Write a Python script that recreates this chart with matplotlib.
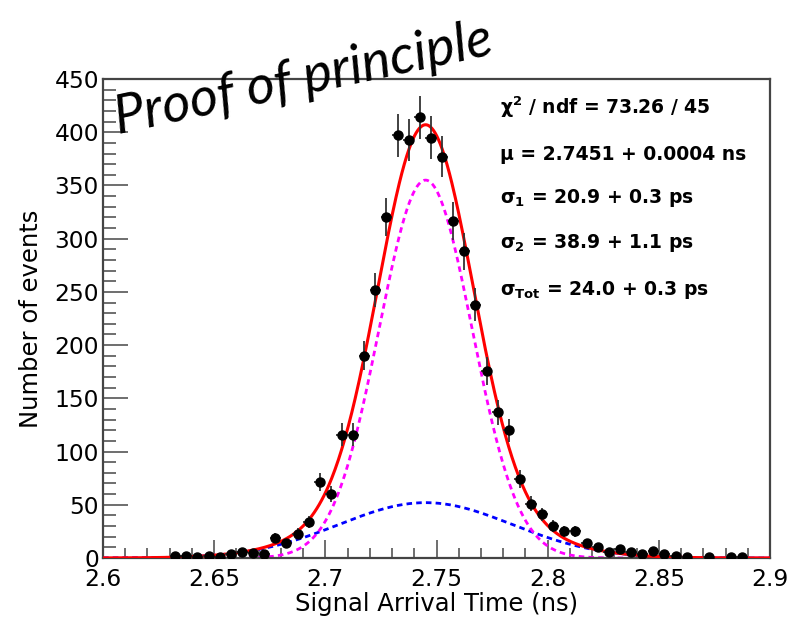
import numpy as np
import matplotlib
matplotlib.use("Agg")
import matplotlib.pyplot as plt
import matplotlib.transforms as mtransforms
from matplotlib.ticker import MultipleLocator

plt.rcParams['font.family'] = ['DejaVu Sans']
plt.rcParams['mathtext.fontset'] = 'dejavusans'
plt.rcParams['mathtext.default'] = 'bf'

# 直方图数据 (bin 中心, 计数)
bin_centers = [2.6325, 2.6375, 2.6425, 2.6475, 2.6525, 2.6575, 2.6625, 2.6675,
               2.6725, 2.6775, 2.6825, 2.6875, 2.6925, 2.6975, 2.7025, 2.7075,
               2.7125, 2.7175, 2.7225, 2.7275, 2.7325, 2.7375, 2.7425, 2.7475,
               2.7525, 2.7575, 2.7625, 2.7675, 2.7725, 2.7775, 2.7825, 2.7875,
               2.7925, 2.7975, 2.8025, 2.8075, 2.8125, 2.8175, 2.8225, 2.8275,
               2.8325, 2.8375, 2.8425, 2.8475, 2.8525, 2.8575, 2.8625, 2.8725,
               2.8825, 2.8875]
counts = [2, 2, 1, 2, 1, 4, 6, 5,
          4, 19, 14, 23, 34, 71, 60, 116,
          116, 190, 252, 320, 397, 393, 414, 395,
          377, 317, 288, 238, 176, 137, 120, 74,
          51, 41, 30, 25, 25, 14, 10, 6,
          8, 6, 4, 7, 4, 2, 1, 1,
          1, 1]
bin_width = 0.005

# 拟合参数 (双高斯)
mu = 2.7451
sigma1 = 0.0209
sigma2 = 0.0389
amp1 = 355.0
amp2 = 52.0

fit_lines = [r'χ$^{2}$ / ndf = 73.26 / 45',
             r'μ = 2.7451 + 0.0004 ns',
             r'σ$_{1}$ = 20.9 + 0.3 ps',
             r'σ$_{2}$ = 38.9 + 1.1 ps',
             r'σ$_{Tot}$ = 24.0 + 0.3 ps']

x = np.array(bin_centers)
y = np.array(counts, dtype=float)
yerr = np.sqrt(y)

fig = plt.figure(figsize=(7.99, 6.27), dpi=100)
ax = fig.add_axes([103/799, 69/627, (770-103)/799, (558-79)/627])

xs = np.linspace(2.6, 2.9, 800)
g1 = amp1 * np.exp(-0.5 * ((xs - mu) / sigma1) ** 2)
g2 = amp2 * np.exp(-0.5 * ((xs - mu) / sigma2) ** 2)

ax.plot(xs, g2, color='#0000ff', lw=2, linestyle=(0, (2, 1.5)), zorder=2)
ax.plot(xs, g1, color='#ff00ff', lw=2, linestyle=(0, (2, 1.5)), zorder=2)
ax.plot(xs, g1 + g2, color='#ff0000', lw=2.2, zorder=3)

ax.errorbar(x, y, yerr=yerr, xerr=bin_width/2, fmt='o', color='black',
            ecolor='#333333', elinewidth=1.3, markersize=6.5, capsize=0, zorder=4)

ax.set_xlim(2.6, 2.9)
ax.set_ylim(0, 450)
ax.xaxis.set_minor_locator(MultipleLocator(0.01))
ax.yaxis.set_major_locator(MultipleLocator(50))
ax.yaxis.set_minor_locator(MultipleLocator(10))
ax.set_xticks([2.6, 2.65, 2.7, 2.75, 2.8, 2.85, 2.9])
ax.set_xticklabels(['2.6', '2.65', '2.7', '2.75', '2.8', '2.85', '2.9'])

ax.tick_params(axis='x', which='major', direction='in', length=13, width=1.2,
               labelsize=16.8, pad=7, top=False, color='#555555')
ax.tick_params(axis='x', which='minor', direction='in', length=7, width=1.2,
               top=False, color='#555555')
ax.tick_params(axis='y', which='major', direction='in', length=18, width=1.2,
               labelsize=16.8, pad=3, right=False, color='#555555')
ax.tick_params(axis='y', which='minor', direction='in', length=9, width=1.2,
               right=False, color='#555555')
for s in ax.spines.values():
    s.set_color('#444444')
    s.set_linewidth(1.6)

# 把 y 轴的 "0" 稍微上移, 避免和 "2.6" 重叠
fig.canvas.draw()
zero_lab = ax.yaxis.get_majorticklabels()[0]
zero_lab.set_transform(zero_lab.get_transform() +
                       mtransforms.ScaledTranslation(0, 5/72, fig.dpi_scale_trans))

ax.set_xlabel('Signal Arrival Time (ns)', fontsize=17.5, labelpad=1)
ax.set_ylabel('Number of events', fontsize=17.5, labelpad=8)

line_y = [107, 155, 198, 243, 290]
for txt, yy in zip(fit_lines, line_y):
    fig.text(500/799, 1 - yy/627, txt, fontsize=13.5, fontweight='bold',
             ha='left', va='center')

fig.text(118/799, 1 - 134/627, 'Proof of principle', fontsize=39,
         family='Lato', style='italic', rotation=12, rotation_mode='anchor',
         ha='left', va='baseline')

fig.savefig('out.png', dpi=100)
